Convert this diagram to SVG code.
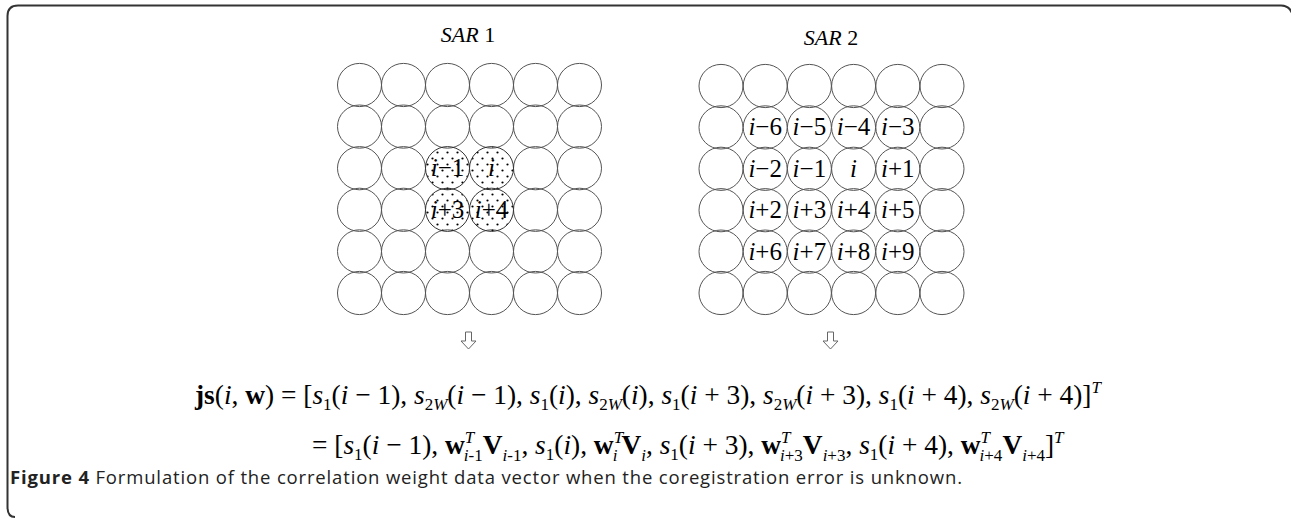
<svg xmlns="http://www.w3.org/2000/svg" xmlns:xlink="http://www.w3.org/1999/xlink" width="1291" height="518" viewBox="0 0 1291 518">
<style>
.cell{fill:none;stroke:#555;stroke-width:1}
.dot{fill:url(#dots);stroke:#333;stroke-width:1}
.lbl{font-family:"Liberation Serif","Times New Roman",serif;font-size:25px;fill:#000;text-anchor:middle}
.ttl{font-family:"Liberation Serif","Times New Roman",serif;font-size:22px;fill:#000;text-anchor:middle}
.eq{font-family:"Liberation Serif","Times New Roman",serif;font-size:27.4px;fill:#000}
.it{font-style:italic}
.b{font-weight:bold}
.sb{font-size:17px}
.sp{font-size:17px;font-style:italic}
.cap{font-family:"Open Sans","Liberation Sans",sans-serif;font-size:18.5px;fill:#222}
.arr{fill:#fff;stroke:#666;stroke-width:1}
</style>
<defs>
<pattern id="dots" patternUnits="userSpaceOnUse" width="10" height="12">
<circle cx="2.5" cy="2.5" r="1.1" fill="#000"/>
<circle cx="7.5" cy="8.5" r="1.1" fill="#000"/>
</pattern>
</defs>
<rect width="1291" height="518" fill="#fff"/>
<g id="frame"><path d="M15,517 Q7.5,517 7.5,507 L7.5,16 Q7.5,5.5 18,5.5 L1281,5.5 Q1289,5.5 1292,13" fill="none" stroke="#333" stroke-width="2"/></g>

<g id="sar1-title"><text class="ttl" x="468" y="42"><tspan class="it">SAR</tspan> 1</text></g>
<g id="sar2-title"><text class="ttl" x="831" y="45"><tspan class="it">SAR</tspan> 2</text></g>

<g id="sar1-grid">
<g id="s1-r1"><ellipse class="cell" cx="359.5" cy="85" rx="22" ry="21.6"/><ellipse class="cell" cx="403.5" cy="85" rx="22" ry="21.6"/><ellipse class="cell" cx="447.5" cy="85" rx="22" ry="21.6"/><ellipse class="cell" cx="491.5" cy="85" rx="22" ry="21.6"/><ellipse class="cell" cx="535.5" cy="85" rx="22" ry="21.6"/><ellipse class="cell" cx="579.5" cy="85" rx="22" ry="21.6"/></g>
<g id="s1-r2"><ellipse class="cell" cx="359.5" cy="126.6" rx="22" ry="21.6"/><ellipse class="cell" cx="403.5" cy="126.6" rx="22" ry="21.6"/><ellipse class="cell" cx="447.5" cy="126.6" rx="22" ry="21.6"/><ellipse class="cell" cx="491.5" cy="126.6" rx="22" ry="21.6"/><ellipse class="cell" cx="535.5" cy="126.6" rx="22" ry="21.6"/><ellipse class="cell" cx="579.5" cy="126.6" rx="22" ry="21.6"/></g>
<g id="s1-r3"><ellipse class="cell" cx="359.5" cy="168.2" rx="22" ry="21.6"/><ellipse class="cell" cx="403.5" cy="168.2" rx="22" ry="21.6"/><ellipse class="cell" cx="535.5" cy="168.2" rx="22" ry="21.6"/><ellipse class="cell" cx="579.5" cy="168.2" rx="22" ry="21.6"/></g>
<g id="s1-r4"><ellipse class="cell" cx="359.5" cy="209.8" rx="22" ry="21.6"/><ellipse class="cell" cx="403.5" cy="209.8" rx="22" ry="21.6"/><ellipse class="cell" cx="535.5" cy="209.8" rx="22" ry="21.6"/><ellipse class="cell" cx="579.5" cy="209.8" rx="22" ry="21.6"/></g>
<g id="s1-r5"><ellipse class="cell" cx="359.5" cy="251.4" rx="22" ry="21.6"/><ellipse class="cell" cx="403.5" cy="251.4" rx="22" ry="21.6"/><ellipse class="cell" cx="447.5" cy="251.4" rx="22" ry="21.6"/><ellipse class="cell" cx="491.5" cy="251.4" rx="22" ry="21.6"/><ellipse class="cell" cx="535.5" cy="251.4" rx="22" ry="21.6"/><ellipse class="cell" cx="579.5" cy="251.4" rx="22" ry="21.6"/></g>
<g id="s1-r6"><ellipse class="cell" cx="359.5" cy="293" rx="22" ry="21.6"/><ellipse class="cell" cx="403.5" cy="293" rx="22" ry="21.6"/><ellipse class="cell" cx="447.5" cy="293" rx="22" ry="21.6"/><ellipse class="cell" cx="491.5" cy="293" rx="22" ry="21.6"/><ellipse class="cell" cx="535.5" cy="293" rx="22" ry="21.6"/><ellipse class="cell" cx="579.5" cy="293" rx="22" ry="21.6"/></g>
</g>
<g id="s1-im1"><ellipse class="dot" cx="447.5" cy="168.2" rx="22" ry="21.6"/><text class="lbl" x="447.5" y="176"><tspan class="it">i</tspan>−1</text></g>
<g id="s1-i"><ellipse class="dot" cx="491.5" cy="168.2" rx="22" ry="21.6"/><text class="lbl" x="491.5" y="176"><tspan class="it">i</tspan></text></g>
<g id="s1-ip3"><ellipse class="dot" cx="447.5" cy="209.8" rx="22" ry="21.6"/><text class="lbl" x="447.5" y="218"><tspan class="it">i</tspan>+3</text></g>
<g id="s1-ip4"><ellipse class="dot" cx="491.5" cy="209.8" rx="22" ry="21.6"/><text class="lbl" x="491.5" y="218"><tspan class="it">i</tspan>+4</text></g>

<g id="sar2-grid">
<g id="s2-r1"><ellipse class="cell" cx="721" cy="86" rx="22" ry="21.6"/><ellipse class="cell" cx="765.2" cy="86" rx="22" ry="21.6"/><ellipse class="cell" cx="809.4" cy="86" rx="22" ry="21.6"/><ellipse class="cell" cx="853.6" cy="86" rx="22" ry="21.6"/><ellipse class="cell" cx="897.8" cy="86" rx="22" ry="21.6"/><ellipse class="cell" cx="942" cy="86" rx="22" ry="21.6"/></g>
<g id="s2-r2"><ellipse class="cell" cx="721" cy="127.4" rx="22" ry="21.6"/><ellipse class="cell" cx="765.2" cy="127.4" rx="22" ry="21.6"/><ellipse class="cell" cx="809.4" cy="127.4" rx="22" ry="21.6"/><ellipse class="cell" cx="853.6" cy="127.4" rx="22" ry="21.6"/><ellipse class="cell" cx="897.8" cy="127.4" rx="22" ry="21.6"/><ellipse class="cell" cx="942" cy="127.4" rx="22" ry="21.6"/></g>
<g id="s2-r3"><ellipse class="cell" cx="721" cy="168.8" rx="22" ry="21.6"/><ellipse class="cell" cx="765.2" cy="168.8" rx="22" ry="21.6"/><ellipse class="cell" cx="809.4" cy="168.8" rx="22" ry="21.6"/><ellipse class="cell" cx="853.6" cy="168.8" rx="22" ry="21.6"/><ellipse class="cell" cx="897.8" cy="168.8" rx="22" ry="21.6"/><ellipse class="cell" cx="942" cy="168.8" rx="22" ry="21.6"/></g>
<g id="s2-r4"><ellipse class="cell" cx="721" cy="210.2" rx="22" ry="21.6"/><ellipse class="cell" cx="765.2" cy="210.2" rx="22" ry="21.6"/><ellipse class="cell" cx="809.4" cy="210.2" rx="22" ry="21.6"/><ellipse class="cell" cx="853.6" cy="210.2" rx="22" ry="21.6"/><ellipse class="cell" cx="897.8" cy="210.2" rx="22" ry="21.6"/><ellipse class="cell" cx="942" cy="210.2" rx="22" ry="21.6"/></g>
<g id="s2-r5"><ellipse class="cell" cx="721" cy="251.6" rx="22" ry="21.6"/><ellipse class="cell" cx="765.2" cy="251.6" rx="22" ry="21.6"/><ellipse class="cell" cx="809.4" cy="251.6" rx="22" ry="21.6"/><ellipse class="cell" cx="853.6" cy="251.6" rx="22" ry="21.6"/><ellipse class="cell" cx="897.8" cy="251.6" rx="22" ry="21.6"/><ellipse class="cell" cx="942" cy="251.6" rx="22" ry="21.6"/></g>
<g id="s2-r6"><ellipse class="cell" cx="721" cy="293" rx="22" ry="21.6"/><ellipse class="cell" cx="765.2" cy="293" rx="22" ry="21.6"/><ellipse class="cell" cx="809.4" cy="293" rx="22" ry="21.6"/><ellipse class="cell" cx="853.6" cy="293" rx="22" ry="21.6"/><ellipse class="cell" cx="897.8" cy="293" rx="22" ry="21.6"/><ellipse class="cell" cx="942" cy="293" rx="22" ry="21.6"/></g>
</g>
<g id="sar2-labels">
<text class="lbl" x="765.2" y="135"><tspan class="it">i</tspan>−6</text>
<text class="lbl" x="809.4" y="135"><tspan class="it">i</tspan>−5</text>
<text class="lbl" x="853.6" y="135"><tspan class="it">i</tspan>−4</text>
<text class="lbl" x="897.8" y="135"><tspan class="it">i</tspan>−3</text>
<text class="lbl" x="765.2" y="176.5"><tspan class="it">i</tspan>−2</text>
<text class="lbl" x="809.4" y="176.5"><tspan class="it">i</tspan>−1</text>
<text class="lbl" x="853.6" y="176.5"><tspan class="it">i</tspan></text>
<text class="lbl" x="897.8" y="176.5"><tspan class="it">i</tspan>+1</text>
<text class="lbl" x="765.2" y="218"><tspan class="it">i</tspan>+2</text>
<text class="lbl" x="809.4" y="218"><tspan class="it">i</tspan>+3</text>
<text class="lbl" x="853.6" y="218"><tspan class="it">i</tspan>+4</text>
<text class="lbl" x="897.8" y="218"><tspan class="it">i</tspan>+5</text>
<text class="lbl" x="765.2" y="259.5"><tspan class="it">i</tspan>+6</text>
<text class="lbl" x="809.4" y="259.5"><tspan class="it">i</tspan>+7</text>
<text class="lbl" x="853.6" y="259.5"><tspan class="it">i</tspan>+8</text>
<text class="lbl" x="897.8" y="259.5"><tspan class="it">i</tspan>+9</text>
</g>

<g id="connectors">
<path class="arr" d="M465.5,332 L471.5,332 L471.5,341 L476,341 L468.5,349 L461,341 L465.5,341 Z"/>
<path class="arr" d="M827.5,332 L833.5,332 L833.5,341 L838,341 L830.5,349 L823,341 L827.5,341 Z"/>
</g>

<g id="equation">
<text class="eq" x="195" y="404"><tspan class="b">js</tspan>(<tspan class="it">i</tspan>, <tspan class="b">w</tspan>) = [<tspan class="it">s</tspan><tspan class="sb" dy="6">1</tspan><tspan dy="-6">(</tspan><tspan class="it">i</tspan> − 1), <tspan class="it">s</tspan><tspan class="sb" dy="6">2<tspan class="it">W</tspan></tspan><tspan dy="-6">(</tspan><tspan class="it">i</tspan> − 1), <tspan class="it">s</tspan><tspan class="sb" dy="6">1</tspan><tspan dy="-6">(</tspan><tspan class="it">i</tspan>), <tspan class="it">s</tspan><tspan class="sb" dy="6">2<tspan class="it">W</tspan></tspan><tspan dy="-6">(</tspan><tspan class="it">i</tspan>), <tspan class="it">s</tspan><tspan class="sb" dy="6">1</tspan><tspan dy="-6">(</tspan><tspan class="it">i</tspan> + 3), <tspan class="it">s</tspan><tspan class="sb" dy="6">2<tspan class="it">W</tspan></tspan><tspan dy="-6">(</tspan><tspan class="it">i</tspan> + 3), <tspan class="it">s</tspan><tspan class="sb" dy="6">1</tspan><tspan dy="-6">(</tspan><tspan class="it">i</tspan> + 4), <tspan class="it">s</tspan><tspan class="sb" dy="6">2<tspan class="it">W</tspan></tspan><tspan dy="-6">(</tspan><tspan class="it">i</tspan> + 4)]<tspan class="sp" dy="-11">T</tspan></text>
<text class="eq" x="312" y="454">= [<tspan class="it">s</tspan><tspan class="sb" dy="6">1</tspan><tspan dy="-6">(</tspan><tspan class="it">i</tspan> − 1), <tspan class="b">w</tspan><tspan class="sp" dy="-11">T</tspan><tspan class="sb" dx="-9.5" dy="18"><tspan class="it">i</tspan>-1</tspan><tspan class="b" dy="-7">V</tspan><tspan class="sb" dy="7"><tspan class="it">i</tspan>-1</tspan><tspan dy="-7">, </tspan><tspan class="it">s</tspan><tspan class="sb" dy="6">1</tspan><tspan dy="-6">(</tspan><tspan class="it">i</tspan>), <tspan class="b">w</tspan><tspan class="sp" dy="-11">T</tspan><tspan class="sb it" dx="-9.5" dy="18">i</tspan><tspan class="b" dx="4" dy="-7">V</tspan><tspan class="sb it" dy="7">i</tspan><tspan dy="-7">, </tspan><tspan class="it">s</tspan><tspan class="sb" dy="6">1</tspan><tspan dy="-6">(</tspan><tspan class="it">i</tspan> + 3), <tspan class="b">w</tspan><tspan class="sp" dy="-11">T</tspan><tspan class="sb" dx="-9.5" dy="18"><tspan class="it">i</tspan>+3</tspan><tspan class="b" dy="-7">V</tspan><tspan class="sb" dy="7"><tspan class="it">i</tspan>+3</tspan><tspan dy="-7">, </tspan><tspan class="it">s</tspan><tspan class="sb" dy="6">1</tspan><tspan dy="-6">(</tspan><tspan class="it">i</tspan> + 4), <tspan class="b">w</tspan><tspan class="sp" dy="-11">T</tspan><tspan class="sb" dx="-9.5" dy="18"><tspan class="it">i</tspan>+4</tspan><tspan class="b" dy="-7">V</tspan><tspan class="sb" dy="7"><tspan class="it">i</tspan>+4</tspan><tspan dy="-7">]</tspan><tspan class="sp" dy="-11">T</tspan></text>
</g>

<g id="caption"><text class="cap" x="10" y="484" textLength="952" lengthAdjust="spacing"><tspan font-weight="bold">Figure 4</tspan> Formulation of the correlation weight data vector when the coregistration error is unknown.</text></g>
</svg>
